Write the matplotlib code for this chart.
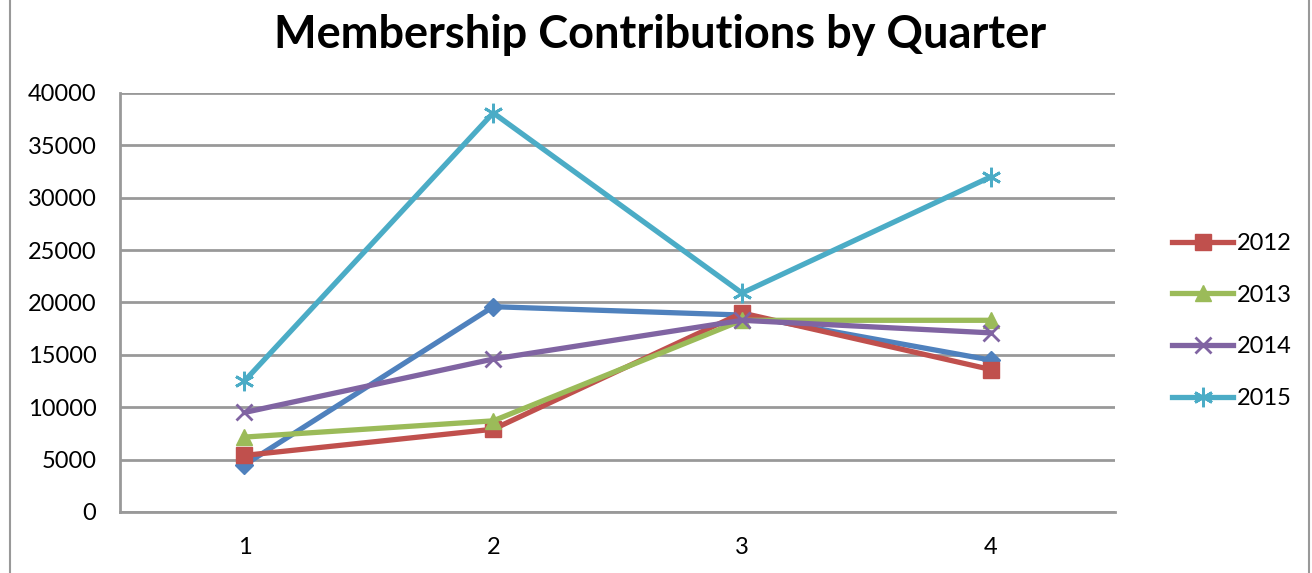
import matplotlib.pyplot as plt
from matplotlib.lines import Line2D

# Membership contributions per quarter
quarters = [1, 2, 3, 4]
s2011 = [4500, 19600, 18800, 14500]
s2012 = [5400, 7900, 19000, 13600]
s2013 = [7150, 8700, 18300, 18300]
s2014 = [9500, 14600, 18300, 17100]
s2015 = [12500, 38100, 20900, 32000]

plt.rcParams['font.family'] = ['Lato', 'DejaVu Sans']

fig = plt.figure(figsize=(13.12, 5.73), dpi=100)
ax = fig.add_axes([0.0915, 0.1065, 0.7585, 0.7312])

lw = 3.8
ax.plot(quarters, s2011, color='#4f81bd', lw=lw, marker='D', ms=9, zorder=3)
ax.plot(quarters, s2012, color='#c0504d', lw=lw, marker='s', ms=12, label='2012', zorder=3)
ax.plot(quarters, s2013, color='#9bbb59', lw=lw, marker='^', ms=12, label='2013', zorder=3)
ax.plot(quarters, s2014, color='#8064a2', lw=lw, marker='x', ms=12, mew=2, label='2014', zorder=3)
ax.plot(quarters, s2015, color='#4bacc6', lw=lw, marker=(6, 2, 0), ms=14, mew=2, label='2015', zorder=3)

ax.set_xlim(0.5, 4.5)
ax.set_ylim(0, 40000)
ax.set_xticks(quarters)
ax.set_yticks(range(0, 40001, 5000))
ax.tick_params(axis='y', labelsize=17, length=0, pad=17)
ax.tick_params(axis='x', labelsize=17, length=0, pad=18)
ax.grid(axis='y', color='#999999', lw=2)
for side in ['top', 'right']:
    ax.spines[side].set_visible(False)
for side in ['left', 'bottom']:
    ax.spines[side].set_color('#999999')
    ax.spines[side].set_linewidth(2)

fig.suptitle('Membership Contributions by Quarter', x=0.503, y=0.975,
             fontsize=32.5, fontweight='bold')

fig.legend(loc='center left', bbox_to_anchor=(0.877, 0.44), frameon=False,
           fontsize=17, handlelength=2.6, labelspacing=1.3, handletextpad=0.15)

# chart frame edges
fig.add_artist(Line2D([0.008, 0.008], [0, 1], color='#999999', lw=1.5))
fig.add_artist(Line2D([0.998, 0.998], [0, 1], color='#999999', lw=1.5))

plt.savefig('out.png')
